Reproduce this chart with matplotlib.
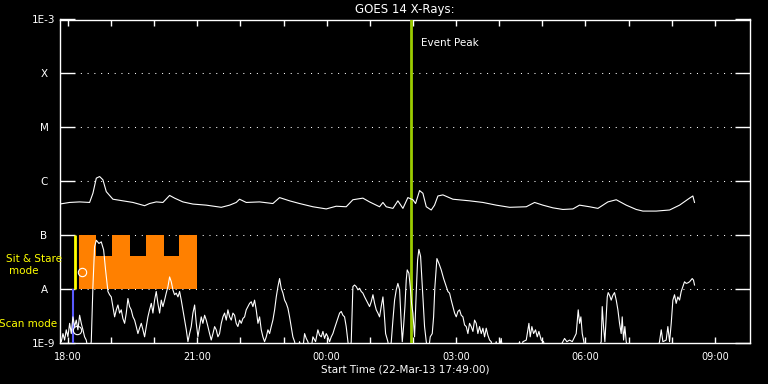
import numpy as np
import pandas as pd
import matplotlib
matplotlib.use("Agg")
import matplotlib.pyplot as plt
import matplotlib.dates as mdates
from matplotlib.ticker import NullLocator

# ---------------- data ----------------
ref_time = pd.Timestamp("2013-03-22 18:00:00")
x_start = pd.Timestamp("2013-03-22 17:49:00")
x_end = pd.Timestamp("2013-03-23 09:49:00")
event_peak = pd.Timestamp("2013-03-23 01:56:48")

# long channel (1-8 A): minutes after 18:00, log10 flux
long_t = [-11.6, 2.4, 16.3, 30.2, 34.8, 39.5, 44.1, 48.7, 53.4, 62.6,
          76.5, 90.5, 106.7, 113.6, 122.9, 132.2, 141.5, 148.4, 160.0, 173.9,
          192.5, 213.4, 225.0, 234.2, 238.8, 248.1, 266.7, 285.2, 294.5, 308.4,
          322.3, 340.9, 359.4, 373.3, 387.2, 396.5, 410.4, 419.7, 433.6, 438.3,
          442.9, 452.2, 459.1, 466.1, 473.0, 480.0, 483.7, 489.3, 493.9, 498.6,
          505.5, 510.1, 514.8, 521.7, 535.6, 558.8, 577.4, 595.9, 614.5, 637.7,
          649.3, 660.8, 674.8, 688.7, 702.6, 711.8, 725.8, 737.4, 751.3, 762.9,
          776.8, 790.7, 800.0, 818.5, 837.1, 851.0, 864.9, 869.5, 871.8]
long_logf = [-6.42, -6.39, -6.38, -6.39, -6.22, -5.94, -5.91, -5.97, -6.19, -6.33,
             -6.36, -6.39, -6.45, -6.41, -6.38, -6.39, -6.26, -6.31, -6.38, -6.42,
             -6.44, -6.48, -6.44, -6.39, -6.33, -6.39, -6.38, -6.41, -6.30, -6.36,
             -6.41, -6.47, -6.51, -6.46, -6.47, -6.34, -6.31, -6.38, -6.47, -6.39,
             -6.47, -6.50, -6.36, -6.50, -6.30, -6.34, -6.41, -6.17, -6.22, -6.47,
             -6.53, -6.44, -6.27, -6.25, -6.33, -6.36, -6.39, -6.44, -6.48, -6.47,
             -6.39, -6.44, -6.49, -6.52, -6.51, -6.44, -6.47, -6.50, -6.38, -6.34,
             -6.44, -6.52, -6.55, -6.55, -6.53, -6.44, -6.31, -6.27, -6.39]

# short channel (0.5-4 A): minutes after 18:00, log10 flux
short_t = [-11.6, -9.2, -6.9, -4.6, -2.3, 0.0, 2.4, 4.7, 7.0, 9.3,
           11.6, 13.9, 16.3, 18.6, 20.9, 23.2, 25.5, 29.3, 32.5, 34.8,
           37.1, 39.5, 43.2, 46.4, 49.7, 52.4, 55.7, 58.0, 60.3, 62.6,
           65.0, 67.3, 69.6, 71.9, 74.2, 76.5, 78.9, 81.2, 83.5, 85.8,
           88.1, 90.5, 92.8, 95.1, 97.4, 99.7, 102.1, 104.4, 106.7, 109.0,
           111.3, 113.6, 116.0, 118.3, 120.6, 122.9, 125.2, 127.6, 129.9, 132.2,
           134.5, 136.8, 139.2, 141.5, 143.8, 146.1, 148.4, 150.7, 153.1, 155.4,
           157.7, 160.0, 162.3, 164.7, 167.0, 169.3, 171.6, 173.9, 176.3, 178.6,
           180.9, 183.2, 185.5, 187.8, 190.2, 192.5, 194.8, 197.1, 199.4, 201.8,
           204.1, 206.4, 208.7, 211.0, 213.4, 215.7, 218.0, 220.3, 222.6, 225.0,
           227.3, 229.6, 231.9, 234.2, 236.5, 238.9, 241.2, 243.5, 245.8, 248.1,
           250.5, 252.8, 255.1, 257.4, 259.7, 262.0, 264.4, 266.7, 269.0, 271.3,
           273.6, 276.0, 278.3, 280.6, 282.9, 285.2, 287.6, 289.9, 292.2, 294.5,
           296.8, 299.2, 301.5, 303.8, 306.1, 308.4, 310.7, 313.0, 315.4, 318.6,
           322.3, 326.0, 329.3, 331.6, 333.9, 337.2, 340.9, 344.6, 347.8, 350.1,
           352.5, 354.8, 357.1, 359.4, 361.7, 364.1, 366.4, 368.7, 371.0, 373.3,
           375.6, 378.0, 380.3, 382.6, 384.9, 387.2, 389.6, 391.9, 394.2, 396.5,
           398.8, 401.2, 403.5, 405.8, 408.1, 410.4, 412.8, 415.1, 417.4, 419.7,
           422.0, 424.4, 426.7, 429.0, 431.3, 433.6, 435.9, 438.3, 440.1, 442.0,
           445.2, 447.5, 449.9, 452.2, 454.5, 456.8, 459.1, 461.5, 463.3, 465.2,
           467.0, 468.9, 470.7, 472.1, 474.4, 476.3, 478.1, 480.0, 482.3, 484.6,
           486.5, 488.3, 490.7, 492.5, 494.4, 496.2, 498.6, 501.3, 504.1, 506.9,
           508.8, 510.6, 513.4, 516.2, 519.4, 522.7, 526.4, 528.7, 531.0, 533.3,
           535.6, 538.0, 540.3, 542.6, 544.9, 547.2, 549.6, 551.9, 554.2, 556.5,
           558.8, 561.1, 563.5, 565.8, 568.1, 570.4, 572.7, 575.1, 577.4, 579.7,
           582.0, 584.3, 586.7, 589.0, 591.3, 595.9, 598.2, 602.9, 605.2, 612.2,
           623.8, 628.4, 630.7, 633.0, 637.7, 641.4, 643.2, 645.5, 647.9, 650.6,
           653.0, 655.3, 658.5, 661.8, 665.5, 679.4, 688.7, 691.0, 694.2, 698.0,
           701.7, 704.9, 707.2, 709.1, 710.0, 711.9, 713.7, 715.6, 717.4, 721.1,
           735.1, 742.0, 743.4, 745.2, 747.1, 748.9, 750.4, 751.7, 753.6, 755.9,
           758.2, 760.5, 762.9, 765.2, 767.5, 769.8, 771.2, 773.1, 774.9, 776.8,
           780.5, 800.0, 818.5, 823.1, 825.5, 827.8, 832.4, 834.7, 837.1, 839.4,
           841.7, 844.0, 846.3, 848.6, 851.0, 853.3, 855.6, 857.9, 860.2, 862.6,
           864.9, 868.6, 870.4, 871.8]
short_logf = [-8.88, -8.97, -8.82, -8.94, -8.75, -8.88, -8.63, -8.82, -8.51, -8.69,
              -8.57, -8.75, -8.48, -8.63, -8.75, -8.88, -8.94, -9.2, -8.97, -7.95,
              -7.21, -7.09, -7.15, -7.12, -7.27, -7.64, -8.04, -8.10, -8.14, -8.32,
              -8.51, -8.38, -8.29, -8.44, -8.38, -8.54, -8.63, -8.44, -8.17, -8.32,
              -8.38, -8.51, -8.57, -8.69, -8.82, -8.72, -8.63, -8.75, -8.88, -8.69,
              -8.51, -8.38, -8.26, -8.44, -8.20, -8.04, -8.26, -8.44, -8.20, -8.32,
              -8.20, -8.07, -7.95, -7.77, -7.86, -8.01, -8.10, -8.07, -8.14, -8.04,
              -8.20, -8.38, -8.57, -8.75, -8.97, -8.82, -8.69, -8.44, -8.29, -8.63,
              -8.88, -8.69, -8.51, -8.63, -8.48, -8.57, -8.69, -8.82, -8.94, -8.82,
              -8.69, -8.75, -8.88, -8.82, -8.63, -8.51, -8.44, -8.57, -8.38, -8.51,
              -8.57, -8.44, -8.48, -8.63, -8.69, -8.57, -8.63, -8.54, -8.51, -8.38,
              -8.32, -8.26, -8.23, -8.32, -8.20, -8.38, -8.63, -8.51, -8.75, -8.88,
              -8.97, -8.88, -8.75, -8.82, -8.69, -8.57, -8.38, -8.14, -7.95, -7.80,
              -7.98, -8.07, -8.20, -8.26, -8.35, -8.51, -8.69, -8.88, -8.97, -9.2,
              -8.97, -9.2, -8.82, -8.91, -8.97, -9.2, -8.88, -8.97, -8.75, -8.85,
              -8.88, -8.78, -8.91, -8.82, -8.88, -8.97, -8.88, -8.82, -8.72, -8.63,
              -8.54, -8.44, -8.41, -8.48, -8.51, -8.69, -8.97, -9.2, -8.97, -7.95,
              -7.92, -7.95, -8.01, -7.98, -8.04, -8.07, -8.14, -8.20, -8.26, -8.32,
              -8.23, -8.10, -8.26, -8.38, -8.44, -8.51, -8.32, -8.14, -8.44, -8.82,
              -8.97, -9.2, -8.97, -8.57, -8.20, -8.01, -7.89, -8.01, -8.51, -8.97,
              -8.69, -8.32, -7.83, -7.64, -7.70, -7.95, -8.26, -8.44, -8.88, -8.07,
              -7.46, -7.26, -7.39, -7.83, -8.26, -8.69, -8.97, -9.2, -8.88, -8.82,
              -8.51, -7.95, -7.43, -7.52, -7.64, -7.80, -7.95, -8.04, -8.07, -8.20,
              -8.32, -8.44, -8.51, -8.41, -8.38, -8.48, -8.51, -8.66, -8.69, -8.82,
              -8.63, -8.69, -8.78, -8.57, -8.63, -8.82, -8.69, -8.82, -8.72, -8.88,
              -8.72, -8.85, -8.94, -8.97, -9.2, -8.97, -9.2, -8.91, -9.2, -9.2,
              -9.2, -8.97, -9.2, -8.97, -8.94, -8.63, -8.88, -8.69, -8.82, -8.75,
              -8.88, -8.78, -8.94, -8.97, -9.2, -9.2, -8.97, -8.91, -8.97, -8.94,
              -8.97, -8.88, -8.82, -8.51, -8.38, -8.63, -8.51, -8.82, -8.94, -9.2,
              -9.2, -8.97, -8.32, -8.69, -8.97, -8.51, -8.14, -8.06, -8.11, -8.20,
              -8.11, -8.06, -8.20, -8.38, -8.63, -8.82, -8.51, -8.94, -8.69, -8.97,
              -9.2, -9.2, -9.2, -8.97, -8.75, -8.97, -8.94, -8.69, -8.97, -8.63,
              -8.20, -8.10, -8.26, -8.14, -8.20, -8.04, -7.95, -7.86, -7.89, -7.88,
              -7.86, -7.80, -7.83, -7.92]

# sit & stare mode blocks: edges (minutes after 18:00) and block tops (log10 flux)
ss_edges = [14.9, 39.5, 61.2, 85.8, 108.1, 133.1, 154.4, 179.0]
ss_tops = [-7.0, -7.38, -7.0, -7.38, -7.0, -7.38, -7.0]
ss_bottom = -8.0
ss_marker_t = 9.7      # yellow marker line
scan_marker_t = 6.5    # blue marker line
symbol_t = [19.2, 12.1]
symbol_logf = [-7.68, -8.75]

ytick_vals = [1e-9, 1e-8, 1e-7, 1e-6, 1e-5, 1e-4, 1e-3]
ytick_labels = ["1E-9", "A", "B", "C", "M", "X", "1E-3"]
grid_levels = [1e-8, 1e-7, 1e-6, 1e-5, 1e-4]

# ---------------- helpers ----------------
def to_time(mins):
    return ref_time + pd.to_timedelta(np.asarray(mins, dtype=float), unit="m")

W, H = 768, 384
fig = plt.figure(figsize=(W / 100, H / 100), dpi=100, facecolor="black")
ax = fig.add_axes([60 / W, 1 - 343.3 / H, 690 / W, (343.3 - 19.5) / H])
ax.set_facecolor("black")

ax.set_yscale("log")
ax.set_ylim(1e-9, 1e-3)
ax.set_xlim(x_start, x_end)

# gridlines
for g in grid_levels:
    ax.axhline(g, color="white", lw=0.75, ls=(0, (1.0, 5.5)), zorder=1)

# sit & stare blocks
for i, top in enumerate(ss_tops):
    tt = to_time([ss_edges[i], ss_edges[i + 1]])
    ax.fill_between(tt, [10 ** ss_bottom] * 2, [10 ** top] * 2,
                    color="#ff8000", lw=0, zorder=2)

# markers for modes
ax.plot(to_time([ss_marker_t, ss_marker_t]), [10 ** ss_bottom, 1e-7],
        color="#ffff00", lw=2.0, zorder=3, solid_capstyle="butt")
ax.plot(to_time([scan_marker_t, scan_marker_t]), [1e-9, 10 ** ss_bottom],
        color="#5a5aff", lw=1.5, zorder=3, solid_capstyle="butt")

# event peak
ax.axvline(event_peak, color="#9ccc00", lw=2.0, zorder=3)

# data
ax.plot(to_time(long_t), 10 ** np.array(long_logf), color="white", lw=0.8, zorder=4)
ax.plot(to_time(short_t), 10 ** np.array(short_logf), color="white", lw=0.8, zorder=4)
ax.plot(to_time(symbol_t), 10 ** np.array(symbol_logf), ls="none", marker="o",
        ms=6, mfc="none", mec="white", mew=0.8, zorder=5)

# axes styling
for s in ax.spines.values():
    s.set_color("white")
    s.set_linewidth(1.0)

ax.set_yticks(ytick_vals)
ax.set_yticklabels(ytick_labels)
ax.yaxis.set_minor_locator(NullLocator())
ax.tick_params(axis="y", which="major", direction="in", length=11, width=1.0,
               color="white", labelcolor="white", labelsize=7.5, pad=11.5,
               left=True, right=True)
for lab in ax.get_yticklabels():
    lab.set_horizontalalignment("center")

ax.xaxis.set_major_locator(mdates.HourLocator(byhour=range(0, 24, 3)))
ax.xaxis.set_minor_locator(mdates.HourLocator())
ax.xaxis.set_major_formatter(mdates.DateFormatter("%H:%M"))
ax.tick_params(axis="x", which="both", direction="in", length=4.5, width=1.0,
               color="white", labelcolor="white", labelsize=7, pad=6,
               top=True, bottom=True)

# texts
fig.text(405 / W, 1 - 10 / H, "GOES 14 X-Rays:", color="white",
         fontsize=8.5, ha="center", va="center")
fig.text(405 / W, 1 - 369 / H, "Start Time (22-Mar-13 17:49:00)",
         color="white", fontsize=7.5, ha="center", va="center")
fig.text(421 / W, 1 - 43 / H, "Event Peak", color="white", fontsize=7.5,
         ha="left", va="center")
fig.text(34 / W, 1 - 259 / H, "Sit & Stare", color="#ffff00", fontsize=7.5,
         ha="center", va="center")
fig.text(24 / W, 1 - 271 / H, "mode", color="#ffff00", fontsize=7.5,
         ha="center", va="center")
fig.text(28 / W, 1 - 324 / H, "Scan mode", color="#ffff00", fontsize=7.5,
         ha="center", va="center")

fig.savefig("out.png", dpi=100, facecolor="black")
